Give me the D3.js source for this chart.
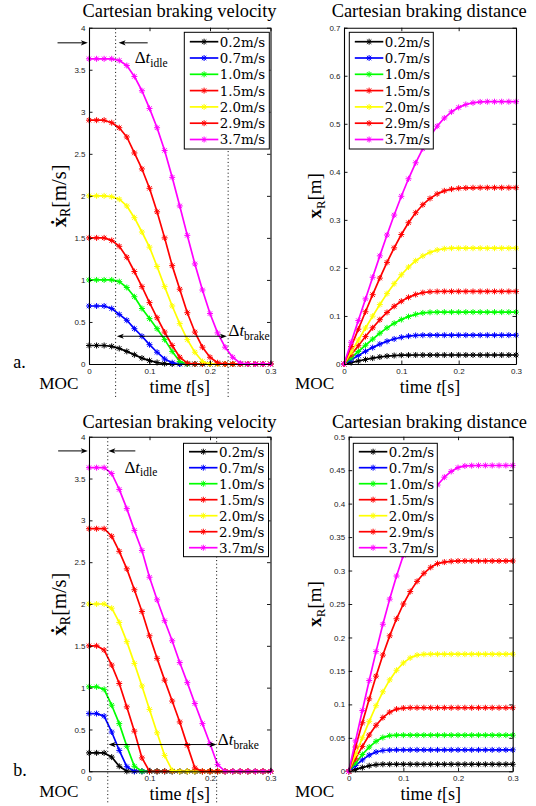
<!DOCTYPE html>
<html><head><meta charset="utf-8">
<script src="https://cdn.jsdelivr.net/npm/d3@7"></script>
<style>
body{margin:0;background:#fff;}
svg{display:block;}
</style></head><body>
<svg id="chart" width="536" height="806"></svg>
<script>
// ---------------- DATA ----------------
const time = [0,0.0125,0.025,0.0375,0.05,0.0625,0.075,0.0875,0.1,0.1125,0.125,0.1375,0.15,0.1625,0.175,0.1875,0.2,0.2125,0.225,0.2375,0.25,0.2625,0.275,0.2875,0.3];
const seriesLabels = ["0.2m/s","0.7m/s","1.0m/s","1.5m/s","2.0m/s","2.9m/s","3.7m/s"];
const seriesColors = ["#000000","#0000ff","#00ff00","#ff0000","#ffff00","#ff0000","#ff00ff"];

const xTickVals = [0,0.1,0.2,0.3];
const xTickLabels = ["0","0.1","0.2","0.3"];
const velTickVals = [0,0.5,1,1.5,2,2.5,3,3.5,4];
const velTickLabels = ["0","0.5","1","1.5","2","2.5","3","3.5","4"];
const disTickValsA = [0,0.1,0.2,0.3,0.4,0.5,0.6,0.7];
const disTickLabelsA = ["0","0.1","0.2","0.3","0.4","0.5","0.6","0.7"];
const disTickValsB = [0,0.05,0.1,0.15,0.2,0.25,0.3,0.35,0.4,0.45,0.5];
const disTickLabelsB = ["0","0.05","0.1","0.15","0.2","0.25","0.3","0.35","0.4","0.45","0.5"];

// (a) velocity [m/s]
const velA_02 = [0.22,0.22,0.22,0.21,0.185,0.15,0.11,0.07,0.04,0.018,0.005,0,0,0,0,0,0,0,0,0,0,0,0,0,0];
const velA_07 = [0.69,0.69,0.69,0.66,0.59,0.52,0.42,0.33,0.23,0.14,0.06,0.015,0,0,0,0,0,0,0,0,0,0,0,0,0];
const velA_10 = [1.0,1.0,1.0,1.0,0.98,0.91,0.80,0.66,0.54,0.42,0.29,0.15,0.03,0,0,0,0,0,0,0,0,0,0,0,0];
const velA_15 = [1.5,1.5,1.5,1.47,1.40,1.27,1.10,0.92,0.73,0.55,0.38,0.22,0.08,0.01,0,0,0,0,0,0,0,0,0,0,0];
const velA_20 = [2.0,2.0,2.0,1.99,1.96,1.88,1.74,1.57,1.39,1.16,0.92,0.69,0.48,0.29,0.14,0.03,0,0,0,0,0,0,0,0,0];
const velA_29 = [2.9,2.9,2.9,2.87,2.81,2.70,2.51,2.32,2.09,1.81,1.50,1.17,0.89,0.61,0.38,0.20,0.08,0.015,0,0,0,0,0,0,0];
const velA_37 = [3.63,3.63,3.63,3.63,3.61,3.55,3.42,3.25,3.04,2.81,2.54,2.22,1.88,1.53,1.19,0.88,0.60,0.37,0.20,0.08,0.01,0,0,0,0];

// (a) distance [m]
const disA_02 = [0,0.003,0.0062,0.0093,0.0122,0.0146,0.0164,0.0176,0.0183,0.0186,0.0187,0.0187,0.0187,0.0187,0.0187,0.0187,0.0187,0.0187,0.0187,0.0187,0.0187,0.0187,0.0187,0.0187,0.0187];
const disA_07 = [0,0.0088,0.0177,0.0263,0.0342,0.0414,0.0473,0.0521,0.0557,0.058,0.0594,0.0599,0.06,0.06,0.06,0.06,0.06,0.06,0.06,0.06,0.06,0.06,0.06,0.06,0.06];
const disA_10 = [0,0.013,0.026,0.039,0.0518,0.064,0.0752,0.0847,0.0925,0.0987,0.1034,0.1063,0.1075,0.1078,0.108,0.108,0.108,0.108,0.108,0.108,0.108,0.108,0.108,0.108,0.108];
const disA_15 = [0,0.0191,0.0381,0.0571,0.0753,0.0922,0.1073,0.1201,0.1306,0.1387,0.1446,0.1485,0.1504,0.1509,0.151,0.151,0.151,0.151,0.151,0.151,0.151,0.151,0.151,0.151,0.151];
const disA_20 = [0,0.025,0.05,0.0749,0.0996,0.1237,0.1465,0.1672,0.1858,0.2018,0.2149,0.225,0.2324,0.2373,0.24,0.241,0.241,0.241,0.241,0.241,0.241,0.241,0.241,0.241,0.241];
const disA_29 = [0,0.0363,0.0725,0.1087,0.1443,0.1788,0.2115,0.2418,0.2695,0.294,0.3148,0.3316,0.3446,0.3541,0.3604,0.364,0.3658,0.3665,0.3668,0.367,0.367,0.367,0.367,0.367,0.367];
const disA_37 = [0,0.0452,0.0904,0.1355,0.1806,0.2251,0.2685,0.31,0.3491,0.3855,0.4188,0.4484,0.4739,0.4951,0.512,0.5249,0.5341,0.5402,0.5437,0.5455,0.546,0.546,0.546,0.546,0.546];

// (b) velocity [m/s]
const velB_02 = [0.22,0.22,0.22,0.17,0.06,0,0,0,0,0,0,0,0,0,0,0,0,0,0,0,0,0,0,0,0];
const velB_07 = [0.69,0.69,0.66,0.47,0.25,0.055,0,0,0,0,0,0,0,0,0,0,0,0,0,0,0,0,0,0,0];
const velB_10 = [1.01,1.01,0.98,0.79,0.57,0.30,0.06,0,0,0,0,0,0,0,0,0,0,0,0,0,0,0,0,0,0];
const velB_15 = [1.5,1.5,1.45,1.27,1.05,0.77,0.48,0.16,0,0,0,0,0,0,0,0,0,0,0,0,0,0,0,0,0];
const velB_20 = [2.0,2.0,2.0,1.95,1.78,1.55,1.29,1.02,0.74,0.46,0.19,0.01,0,0,0,0,0,0,0,0,0,0,0,0,0];
const velB_29 = [2.9,2.9,2.9,2.81,2.63,2.42,2.17,1.91,1.62,1.35,1.09,0.84,0.59,0.31,0.04,0,0,0,0,0,0,0,0,0,0];
const velB_37 = [3.63,3.63,3.63,3.56,3.37,3.14,2.88,2.64,2.32,2.05,1.80,1.56,1.30,1.06,0.81,0.57,0.33,0.08,0,0,0,0,0,0,0];

// (b) distance [m]
const disB_02 = [0,0.0028,0.0056,0.0083,0.0099,0.0105,0.0105,0.0105,0.0105,0.0105,0.0105,0.0105,0.0105,0.0105,0.0105,0.0105,0.0105,0.0105,0.0105,0.0105,0.0105,0.0105,0.0105,0.0105,0.0105];
const disB_07 = [0,0.0086,0.0171,0.0242,0.0288,0.0311,0.0318,0.032,0.032,0.032,0.032,0.032,0.032,0.032,0.032,0.032,0.032,0.032,0.032,0.032,0.032,0.032,0.032,0.032,0.032];
const disB_10 = [0,0.0126,0.0251,0.0362,0.0448,0.0505,0.0533,0.054,0.054,0.054,0.054,0.054,0.054,0.054,0.054,0.054,0.054,0.054,0.054,0.054,0.054,0.054,0.054,0.054,0.054];
const disB_15 = [0,0.0188,0.0372,0.0542,0.0688,0.0803,0.0884,0.093,0.0945,0.095,0.095,0.095,0.095,0.095,0.095,0.095,0.095,0.095,0.095,0.095,0.095,0.095,0.095,0.095,0.095];
const disB_20 = [0,0.025,0.05,0.0747,0.098,0.1188,0.1366,0.151,0.162,0.1695,0.1736,0.1748,0.175,0.175,0.175,0.175,0.175,0.175,0.175,0.175,0.175,0.175,0.175,0.175,0.175];
const disB_29 = [0,0.0363,0.0725,0.1082,0.1422,0.1737,0.2024,0.2279,0.25,0.2686,0.2838,0.2959,0.3048,0.3104,0.3126,0.3138,0.3143,0.3143,0.3143,0.3143,0.3143,0.3143,0.3143,0.3143,0.3143];
const disB_37 = [0,0.0454,0.0908,0.1356,0.1789,0.2197,0.2573,0.2918,0.3228,0.3501,0.3742,0.3952,0.413,0.4278,0.4395,0.4481,0.4538,0.4563,0.4568,0.457,0.457,0.457,0.457,0.457,0.457];

// ---------------- DRAWING ----------------
const SERIF = '"Liberation Serif","Times New Roman",serif';
const LEGSERIF = '"DejaVu Serif","Liberation Serif",serif';
const SANS = '"Liberation Sans",Arial,sans-serif';
const svg = d3.select("#chart");
svg.append("rect").attr("width",536).attr("height",806).attr("fill","#fff");
const markerD = "M-3,0H3M0,-3V3M-2.2,-2.2L2.2,2.2M-2.2,2.2L2.2,-2.2";

function arrowHead(g, x, y, dir){
  const b = x - dir*7, n = x - dir*5.2;
  g.append("path").attr("d",`M${x},${y}L${b},${y-2.6}L${n},${y}L${b},${y+2.6}Z`).attr("fill","#000");
}

function drawPanel(p){
  const g = svg.append("g");
  const x = d3.scaleLinear().domain([0,0.3]).range([p.l,p.r]);
  const y = d3.scaleLinear().domain([0,p.yMax]).range([p.b,p.t]);

  p.series.forEach((vals,k)=>{
    const pts = time.map((t,i)=>[x(t),y(vals[i])]);
    g.append("path").attr("d",d3.line()(pts)).attr("fill","none")
      .attr("stroke",seriesColors[k]).attr("stroke-width",1.7).attr("stroke-linejoin","round");
    g.append("g").selectAll("path").data(pts).join("path")
      .attr("transform",d=>`translate(${d[0]},${d[1]})`).attr("d",markerD)
      .attr("stroke",seriesColors[k]).attr("stroke-width",1).attr("fill","none");
  });

  const style = sel => {
    sel.selectAll(".domain").attr("stroke","#000").attr("stroke-width",1.1);
    sel.selectAll(".tick line").attr("stroke","#000").attr("stroke-width",0.9);
    sel.selectAll(".tick text").attr("font-family",SANS).attr("font-size",8).attr("fill","#222");
  };
  g.append("g").attr("transform",`translate(0,${p.b})`)
    .call(d3.axisBottom(x).tickValues(xTickVals).tickFormat((d,i)=>xTickLabels[i]).tickSizeInner(-3.5).tickSizeOuter(0).tickPadding(4))
    .call(style);
  g.append("g").attr("transform",`translate(0,${p.t})`)
    .call(d3.axisTop(x).tickValues(xTickVals).tickFormat("").tickSizeInner(-3.5).tickSizeOuter(0))
    .call(style);
  g.append("g").attr("transform",`translate(${p.l},0)`)
    .call(d3.axisLeft(y).tickValues(p.yTicks).tickFormat((d,i)=>p.yLabels[i]).tickSizeInner(-3.5).tickSizeOuter(0).tickPadding(3.5))
    .call(style);
  g.append("g").attr("transform",`translate(${p.r},0)`)
    .call(d3.axisRight(y).tickValues(p.yTicks).tickFormat("").tickSizeInner(-3.5).tickSizeOuter(0))
    .call(style);

  if(p.ann){
    const a = p.ann;
    a.dotted.forEach(t=>{
      g.append("line").attr("x1",x(t)).attr("x2",x(t)).attr("y1",y(p.yMax)+1).attr("y2",y(a.dotBottom))
        .attr("stroke","#000").attr("stroke-width",1).attr("stroke-dasharray","1,2.6");
    });
    const yi = y(a.idleV);
    g.append("line").attr("x1",x(a.idleL[0])).attr("x2",x(a.idleL[1])-5).attr("y1",yi).attr("y2",yi).attr("stroke","#000").attr("stroke-width",1);
    arrowHead(g, x(a.idleL[1]), yi, 1);
    g.append("line").attr("x1",x(a.idleR[0])).attr("x2",x(a.idleR[1])+5).attr("y1",yi).attr("y2",yi).attr("stroke","#000").attr("stroke-width",1);
    arrowHead(g, x(a.idleR[1]), yi, -1);
    const ti = g.append("text").attr("x",x(a.idleLabel[0])).attr("y",y(a.idleLabel[1]))
      .attr("font-family",SERIF).attr("font-size",17);
    ti.append("tspan").text("Δ");
    ti.append("tspan").attr("font-style","italic").text("t");
    ti.append("tspan").attr("font-size",11.5).attr("dy",3.5).text("idle");
    const yb = y(a.brakeV);
    g.append("line").attr("x1",x(a.brake[0])+5).attr("x2",x(a.brake[1])-5).attr("y1",yb).attr("y2",yb).attr("stroke","#000").attr("stroke-width",1);
    arrowHead(g, x(a.brake[0]), yb, -1);
    arrowHead(g, x(a.brake[1]), yb, 1);
    const tb = g.append("text").attr("x",x(a.brakeLabel[0])).attr("y",y(a.brakeLabel[1]))
      .attr("font-family",SERIF).attr("font-size",17);
    tb.append("tspan").text("Δ");
    tb.append("tspan").attr("font-style","italic").text("t");
    tb.append("tspan").attr("font-size",11.5).attr("dy",3.5).text("brake");
  }

  const L = p.leg;
  const lg = g.append("g");
  lg.append("rect").attr("x",L.x).attr("y",L.y).attr("width",L.w).attr("height",L.h)
    .attr("fill","#fff").attr("stroke","#000").attr("stroke-width",1);
  seriesLabels.forEach((lab,k)=>{
    const ry = L.row0 + k*L.step;
    lg.append("line").attr("x1",L.x+5.5).attr("x2",L.x+34).attr("y1",ry).attr("y2",ry)
      .attr("stroke",seriesColors[k]).attr("stroke-width",1.7);
    lg.append("path").attr("transform",`translate(${L.x+19.8},${ry})`).attr("d",markerD)
      .attr("stroke",seriesColors[k]).attr("stroke-width",1).attr("fill","none");
    lg.append("text").attr("x",L.x+35.5).attr("y",ry+4.9).attr("font-family",LEGSERIF).attr("font-size",13.4)
      .attr("fill","#000").text(lab);
  });

  svg.append("text").attr("x",p.titleX).attr("y",p.titleY).attr("text-anchor","middle")
    .attr("font-family",SERIF).attr("font-size",18.4).text(p.title);

  const yl = svg.append("text").attr("transform",`translate(${p.ylabX},${(p.t+p.b)/2}) rotate(-90)`)
    .attr("text-anchor","middle").attr("font-family",SERIF).attr("font-size",p.ylabSize);
  yl.append("tspan").attr("font-weight","bold").text(p.ylabSym);
  yl.append("tspan").attr("font-size",p.ylabSize*0.68).attr("dy",4).text("R");
  yl.append("tspan").attr("dy",-4).text(p.ylabUnit);

  const xl = svg.append("text").attr("x",(p.l+p.r)/2).attr("y",p.b+29).attr("text-anchor","middle")
    .attr("font-family",SERIF).attr("font-size",18);
  xl.append("tspan").text("time ");
  xl.append("tspan").attr("font-style","italic").text("t");
  xl.append("tspan").text("[s]");

  svg.append("text").attr("x",p.mocX).attr("y",p.b+25.4).attr("font-family",SERIF).attr("font-size",17.2).text("MOC");
  if(p.tag){
    svg.append("text").attr("x",13.3).attr("y",p.b+4.3).attr("font-family",SERIF).attr("font-size",18).text(p.tag);
  }
}

const panels = [
  {l:89,r:270.5,t:27.7,b:364,yMax:4,yTicks:velTickVals,yLabels:velTickLabels,
   series:[velA_02,velA_07,velA_10,velA_15,velA_20,velA_29,velA_37],
   leg:{x:184.3,y:32.3,w:85,h:116.7,row0:41.7,step:16.3},
   title:"Cartesian braking velocity",titleX:179.5,titleY:17.3,
   ylabX:66,ylabSize:20.5,ylabSym:"ẋ",ylabUnit:"[m/s]",mocX:39.3,tag:"a.",
   ann:{dotted:[0.044,0.23],dotBottom:-0.4,idleV:3.82,idleL:[-0.052,-0.002],idleR:[0.097,0.049],
        idleLabel:[0.0755,3.58],brakeV:0.33,brake:[0.046,0.228],brakeLabel:[0.2305,0.33]}},
  {l:344,r:516,t:27.7,b:364,yMax:0.7,yTicks:disTickValsA,yLabels:disTickLabelsA,
   series:[disA_02,disA_07,disA_10,disA_15,disA_20,disA_29,disA_37],
   leg:{x:349.3,y:32.3,w:84,h:116.7,row0:41.7,step:16.3},
   title:"Cartesian braking distance",titleX:429.2,titleY:17.3,
   ylabX:321,ylabSize:19,ylabSym:"x",ylabUnit:"[m]",mocX:295},
  {l:89,r:270.5,t:436.7,b:771.3,yMax:4,yTicks:velTickVals,yLabels:velTickLabels,
   series:[velB_02,velB_07,velB_10,velB_15,velB_20,velB_29,velB_37],
   leg:{x:183.5,y:443.3,w:85,h:113.4,row0:451.7,step:16},
   title:"Cartesian braking velocity",titleX:179.5,titleY:427.7,
   ylabX:66,ylabSize:20.5,ylabSym:"ẋ",ylabUnit:"[m/s]",mocX:39.3,tag:"b.",
   ann:{dotted:[0.031,0.211],dotBottom:-0.38,idleV:3.83,idleL:[-0.051,-0.002],idleR:[0.0766,0.032],
        idleLabel:[0.0585,3.57],brakeV:0.32,brake:[0.0324,0.2108],brakeLabel:[0.2128,0.31]}},
  {l:348.7,r:512.7,t:436.7,b:771.3,yMax:0.5,yTicks:disTickValsB,yLabels:disTickLabelsB,
   series:[disB_02,disB_07,disB_10,disB_15,disB_20,disB_29,disB_37],
   leg:{x:353.3,y:443.3,w:84,h:113.4,row0:451.7,step:16},
   title:"Cartesian braking distance",titleX:429.5,titleY:427.7,
   ylabX:321,ylabSize:19,ylabSym:"x",ylabUnit:"[m]",mocX:295}
];
panels.forEach(drawPanel);
</script>
</body></html>
